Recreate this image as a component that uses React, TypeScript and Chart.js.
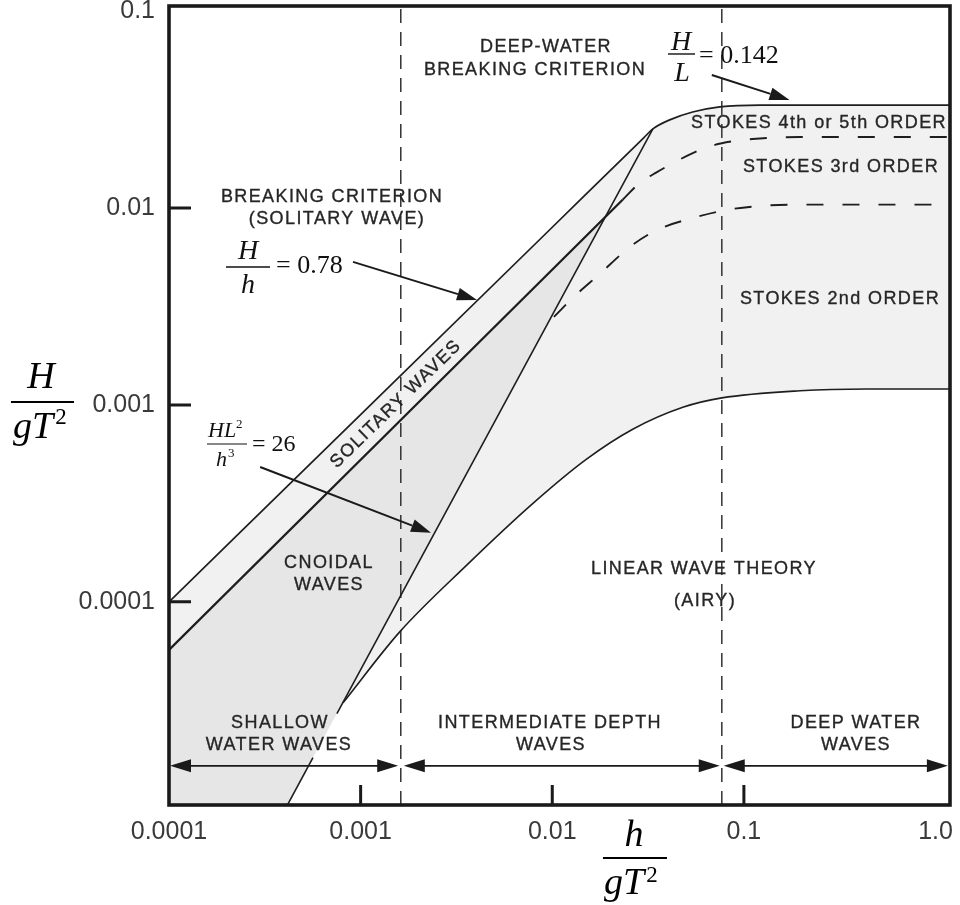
import React, { useEffect, useRef } from 'react';
import { Chart, registerables } from 'chart.js';

Chart.register(...registerables);

// axis ranges (h/gT² on x, H/gT² on y)
const X_MIN = 0.0001;
const X_MAX = 1.19;
const Y_MIN = 9.3e-6;
const Y_MAX = 0.106;

const xTickValues = [0.0001, 0.001, 0.01, 0.1, 1];
const xTickLabels = ['0.0001', '0.001', '0.01', '0.1', '1.0'];
const yTickValues = [0.0001, 0.001, 0.01, 0.1];
const yTickLabels = ['0.0001', '0.001', '0.01', '0.1'];

// breaking limit: H/h = 0.78 turning into H/L = 0.142
const breakingX = [0.0001, 0.001, 0.01, 0.03, 0.0335, 0.041, 0.054, 0.0748, 0.121, 0.3, 1.19];
const breakingY = [0.0001, 0.000893, 0.00798, 0.0227, 0.0252, 0.028, 0.0307, 0.0326, 0.0333, 0.0333, 0.0333];

// solitary / cnoidal boundary (solid part)
const solitaryX = [0.0001, 0.0016, 0.0233];
const solitaryY = [5.7e-5, 0.000828, 0.011];

// Stokes 3rd / Stokes 4th-5th boundary (dashed)
const stokes3X = [0.0233, 0.0286, 0.0352, 0.0437, 0.0541, 0.0705, 0.0875, 0.111, 0.196, 1.19];
const stokes3Y = [0.011, 0.0134, 0.0152, 0.0171, 0.019, 0.0209, 0.0218, 0.0224, 0.0229, 0.0229];

// Stokes 2nd / Stokes 3rd boundary (dashed)
const stokes2X = [0.0102, 0.0131, 0.0177, 0.0254, 0.0352, 0.0541, 0.0815, 0.121, 0.196, 1.19];
const stokes2Y = [0.0028, 0.00357, 0.00462, 0.00634, 0.00773, 0.00889, 0.00977, 0.01023, 0.0104, 0.0104];

// linear (Airy) / Stokes 2nd boundary
const linearX = [0.000809, 0.0016, 0.00359, 0.00793, 0.0151, 0.0263, 0.048, 0.0767, 0.196, 0.4375, 1.19];
const linearY = [3.07e-5, 7.04e-5, 0.000154, 0.000316, 0.00053, 0.000752, 0.000972, 0.001085, 0.00118, 0.001205, 0.001205];

// Ursell parameter HL²/h³ = 26
const ursellX = [0.0001, 0.000564, 0.000752, 0.0335];
const ursellY = [7.18e-7, 1.616e-5, 2.71e-5, 0.0252];
const ursellHiddenAfter = 1; // line is hidden behind the "SHALLOW WATER WAVES" label between points 1 and 2

// depth regime limits
const shallowLimit = 0.00162;
const deepLimit = 0.0767;

const LINE = '#1e1e1e';
const TEXT = '#262626';
const LIGHT = '#f1f1f1';
const DARK = '#e6e6e6';
const SANS = '"Liberation Sans", Arial, Helvetica, sans-serif';
const SERIF = '"Liberation Serif", "Times New Roman", serif';

const pts = (xs: number[], ys: number[]) => xs.map((x, i) => ({ x, y: ys[i] }));

function drawArrowHead(ctx: CanvasRenderingContext2D, x1: number, y1: number, x2: number, y2: number, len: number, half: number) {
  const a = Math.atan2(y2 - y1, x2 - x1);
  const bx = x2 - len * Math.cos(a);
  const by = y2 - len * Math.sin(a);
  ctx.beginPath();
  ctx.moveTo(x2, y2);
  ctx.lineTo(bx + half * Math.sin(a), by - half * Math.cos(a));
  ctx.lineTo(bx - half * Math.sin(a), by + half * Math.cos(a));
  ctx.closePath();
  ctx.fill();
  return [bx, by];
}

function drawArrow(ctx: CanvasRenderingContext2D, x1: number, y1: number, x2: number, y2: number, len = 20, half = 6.5) {
  const [bx, by] = drawArrowHead(ctx, x1, y1, x2, y2, len, half);
  ctx.beginPath();
  ctx.moveTo(x1, y1);
  ctx.lineTo(bx, by);
  ctx.stroke();
}

function drawDoubleArrow(ctx: CanvasRenderingContext2D, x1: number, y: number, x2: number) {
  const len = 21, half = 6.5;
  drawArrowHead(ctx, x2, y, x1, y, len, half);
  drawArrowHead(ctx, x1, y, x2, y, len, half);
  ctx.beginPath();
  ctx.moveTo(x1 + len - 1, y);
  ctx.lineTo(x2 - len + 1, y);
  ctx.stroke();
}

function label(ctx: CanvasRenderingContext2D, text: string, x: number, y: number) {
  ctx.fillText(text, x, y);
  ctx.strokeText(text, x, y);
}

const annotations = {
  id: 'annotations',
  afterDraw(chart: any) {
    const { ctx, chartArea: a, scales } = chart;
    const X = (v: number) => scales.x.getPixelForValue(v);
    const Y = (v: number) => scales.y.getPixelForValue(v);
    ctx.save();

    // frame
    ctx.strokeStyle = '#1a1a1a';
    ctx.lineWidth = 3.6;
    ctx.strokeRect(a.left, a.top, a.right - a.left, a.bottom - a.top);

    // inward tick marks
    ctx.lineWidth = 3;
    ctx.beginPath();
    [0.01, 0.001, 0.0001].forEach((v) => {
      ctx.moveTo(a.left, Y(v));
      ctx.lineTo(a.left + 22, Y(v));
    });
    [0.001, 0.01, 0.1].forEach((v) => {
      ctx.moveTo(X(v), a.bottom);
      ctx.lineTo(X(v), a.bottom - 20);
    });
    ctx.stroke();

    // arrows
    ctx.fillStyle = '#1a1a1a';
    ctx.strokeStyle = '#1a1a1a';
    ctx.lineWidth = 2;
    drawArrow(ctx, X(0.068), Y(0.0473), X(0.173), Y(0.0353));
    drawArrow(ctx, X(0.000912), Y(0.00532), X(0.00405), Y(0.00341));
    drawArrow(ctx, X(0.000299), Y(0.000484), X(0.00233), Y(0.000224));
    ctx.lineWidth = 1.8;
    const yb = Y(1.47e-5);
    drawDoubleArrow(ctx, X(0.0001) + 1, yb, X(0.00157));
    drawDoubleArrow(ctx, X(0.00168), yb, X(0.0748));
    drawDoubleArrow(ctx, X(0.0785), yb, X(1.16));

    // region labels
    ctx.fillStyle = TEXT;
    ctx.strokeStyle = TEXT;
    ctx.lineWidth = 0.35;
    ctx.textAlign = 'center';
    ctx.textBaseline = 'middle';
    ctx.font = `18px ${SANS}`;
    (ctx as any).letterSpacing = '1.4px';
    label(ctx, 'DEEP-WATER', 546, 47);
    label(ctx, 'BREAKING CRITERION', 535, 70);
    label(ctx, 'BREAKING CRITERION', 332, 197);
    label(ctx, '(SOLITARY WAVE)', 337, 219);
    label(ctx, 'STOKES 4th or 5th ORDER', 819, 123);
    label(ctx, 'STOKES 3rd ORDER', 841, 167);
    label(ctx, 'STOKES 2nd ORDER', 840, 299);
    label(ctx, 'CNOIDAL', 329, 563);
    label(ctx, 'WAVES', 329, 585);
    label(ctx, 'LINEAR WAVE THEORY', 704, 569);
    label(ctx, '(AIRY)', 705, 601);
    label(ctx, 'SHALLOW', 280, 723);
    label(ctx, 'WATER WAVES', 279, 745);
    label(ctx, 'INTERMEDIATE DEPTH', 550, 723);
    label(ctx, 'WAVES', 551, 745);
    label(ctx, 'DEEP WATER', 856, 723);
    label(ctx, 'WAVES', 856, 745);
    ctx.save();
    ctx.translate(396, 404);
    ctx.rotate((-44.3 * Math.PI) / 180);
    label(ctx, 'SOLITARY WAVES', 0, 0);
    ctx.restore();
    (ctx as any).letterSpacing = '0px';

    // formulas
    ctx.fillStyle = '#111';
    ctx.strokeStyle = '#111';
    ctx.textBaseline = 'alphabetic';
    // H/L = 0.142
    ctx.textAlign = 'center';
    ctx.font = `italic 28px ${SERIF}`;
    ctx.fillText('H', 681, 50);
    ctx.fillText('L', 682, 81);
    ctx.lineWidth = 1.4;
    ctx.beginPath(); ctx.moveTo(668, 54); ctx.lineTo(695, 54); ctx.stroke();
    ctx.textAlign = 'left';
    ctx.font = `26px ${SERIF}`;
    ctx.fillText('= 0.142', 699, 63);
    // H/h = 0.78
    ctx.textAlign = 'center';
    ctx.font = `italic 28px ${SERIF}`;
    ctx.fillText('H', 248, 259);
    ctx.fillText('h', 248, 293);
    ctx.beginPath(); ctx.moveTo(226, 267); ctx.lineTo(270, 267); ctx.stroke();
    ctx.textAlign = 'left';
    ctx.font = `26px ${SERIF}`;
    ctx.fillText('= 0.78', 276, 273);
    // HL²/h³ = 26
    ctx.font = `italic 22px ${SERIF}`;
    ctx.fillText('HL', 208, 437);
    let w = ctx.measureText('HL').width;
    ctx.font = `13px ${SERIF}`;
    ctx.fillText('2', 208 + w, 428);
    ctx.font = `italic 22px ${SERIF}`;
    ctx.fillText('h', 216, 466);
    w = ctx.measureText('h').width;
    ctx.font = `13px ${SERIF}`;
    ctx.fillText('3', 216 + w + 1, 457);
    ctx.lineWidth = 1.2;
    ctx.beginPath(); ctx.moveTo(207, 444); ctx.lineTo(247, 444); ctx.stroke();
    ctx.font = `24px ${SERIF}`;
    ctx.fillText('= 26', 252, 451);

    // axis titles
    ctx.fillStyle = '#000';
    ctx.strokeStyle = '#000';
    ctx.lineWidth = 1.8;
    // y
    ctx.textAlign = 'center';
    ctx.font = `italic 38px ${SERIF}`;
    ctx.fillText('H', 41, 388);
    ctx.beginPath(); ctx.moveTo(11, 402); ctx.lineTo(74, 402); ctx.stroke();
    ctx.textAlign = 'left';
    ctx.fillText('gT', 13, 438);
    w = ctx.measureText('gT').width;
    ctx.font = `23px ${SERIF}`;
    ctx.fillText('2', 13 + w + 2, 424);
    // x
    ctx.textAlign = 'center';
    ctx.font = `italic 38px ${SERIF}`;
    ctx.fillText('h', 634, 846);
    ctx.beginPath(); ctx.moveTo(603, 858); ctx.lineTo(667, 858); ctx.stroke();
    ctx.textAlign = 'left';
    ctx.fillText('gT', 604, 894);
    w = ctx.measureText('gT').width;
    ctx.font = `23px ${SERIF}`;
    ctx.fillText('2', 604 + w + 2, 882);

    ctx.restore();
  },
};

export default function App() {
  const ref = useRef<HTMLCanvasElement | null>(null);

  useEffect(() => {
    if (!ref.current) return;
    const ursellVisible: any[] = [];
    ursellX.forEach((x, i) => {
      ursellVisible.push({ x, y: ursellY[i] });
      if (i === ursellHiddenAfter) ursellVisible.push({ x, y: null });
    });
    const base = { pointRadius: 0, pointHoverRadius: 0, borderColor: LINE, tension: 0, fill: false };
    const vline = (v: number) => [{ x: v, y: Y_MIN }, { x: v, y: Y_MAX }];

    const chart = new Chart(ref.current, {
      type: 'line',
      data: {
        datasets: [
          // 0: solitary/cnoidal boundary, fills cnoidal zone down to Ursell line
          { ...base, data: pts(solitaryX, solitaryY), borderWidth: 2.3,
            fill: { target: 2, above: DARK, below: 'rgba(0,0,0,0)' } },
          // 1: Ursell line (visible)
          { ...base, data: ursellVisible, borderWidth: 1.6, spanGaps: false },
          // 2: Ursell line as fill boundary
          { ...base, data: pts(ursellX, ursellY), borderWidth: 1, borderColor: 'rgba(0,0,0,0)',
            backgroundColor: LIGHT, fill: { target: 4 } },
          // 3: linear / Stokes boundary
          { ...base, data: pts(linearX, linearY), borderWidth: 1.6, cubicInterpolationMode: 'monotone',
            backgroundColor: LIGHT, fill: { target: 4 } },
          // 4: breaking limit
          { ...base, data: pts(breakingX, breakingY), borderWidth: 1.7, cubicInterpolationMode: 'monotone' },
          // 5: Stokes 3rd upper (dashed)
          { ...base, data: pts(stokes3X, stokes3Y), borderWidth: 1.9, borderDash: [17, 19], cubicInterpolationMode: 'monotone' },
          // 6: Stokes 2nd upper (dashed)
          { ...base, data: pts(stokes2X, stokes2Y), borderWidth: 1.9, borderDash: [17, 19], cubicInterpolationMode: 'monotone' },
          // 7, 8: depth limits
          { ...base, data: vline(shallowLimit), borderWidth: 1.5, borderColor: '#333', borderDash: [14, 9] },
          { ...base, data: vline(deepLimit), borderWidth: 1.5, borderColor: '#333', borderDash: [14, 9] },
        ] as any,
      },
      options: {
        animation: false,
        responsive: false,
        devicePixelRatio: 1,
        events: [],
        layout: { padding: { top: 6, right: 10, left: 0, bottom: 0 } },
        plugins: {
          legend: { display: false },
          tooltip: { enabled: false },
          filler: { drawTime: 'beforeDatasetsDraw' },
        },
        scales: {
          x: {
            type: 'logarithmic',
            min: X_MIN,
            max: X_MAX,
            grid: { display: false, drawTicks: false },
            border: { display: false },
            afterBuildTicks: (s: any) => { s.ticks = xTickValues.map((v) => ({ value: v })); },
            afterFit: (s: any) => { s.height = 100; s.paddingLeft = 0; s.paddingRight = 0; },
            ticks: {
              autoSkip: false,
              maxRotation: 0,
              padding: 12,
              color: '#3a3a3a',
              font: { family: SANS, size: 25 },
              callback: (_v: any, i: number) => xTickLabels[i],
            },
          },
          y: {
            type: 'logarithmic',
            min: Y_MIN,
            max: Y_MAX,
            grid: { display: false, drawTicks: false },
            border: { display: false },
            afterBuildTicks: (s: any) => { s.ticks = yTickValues.map((v) => ({ value: v })); },
            afterFit: (s: any) => { s.width = 169; s.paddingTop = 0; s.paddingBottom = 0; },
            ticks: {
              autoSkip: false,
              padding: 14,
              color: '#3a3a3a',
              font: { family: SANS, size: 25 },
              callback: (_v: any, i: number) => yTickLabels[i],
            },
          },
        },
      } as any,
      plugins: [annotations],
    });
    return () => chart.destroy();
  }, []);

  return (
    <div style={{ position: 'absolute', left: 0, top: 0, width: 960, height: 905, background: '#fff' }}>
      <canvas ref={ref} width={960} height={905} style={{ display: 'block', width: 960, height: 905 }} />
    </div>
  );
}
